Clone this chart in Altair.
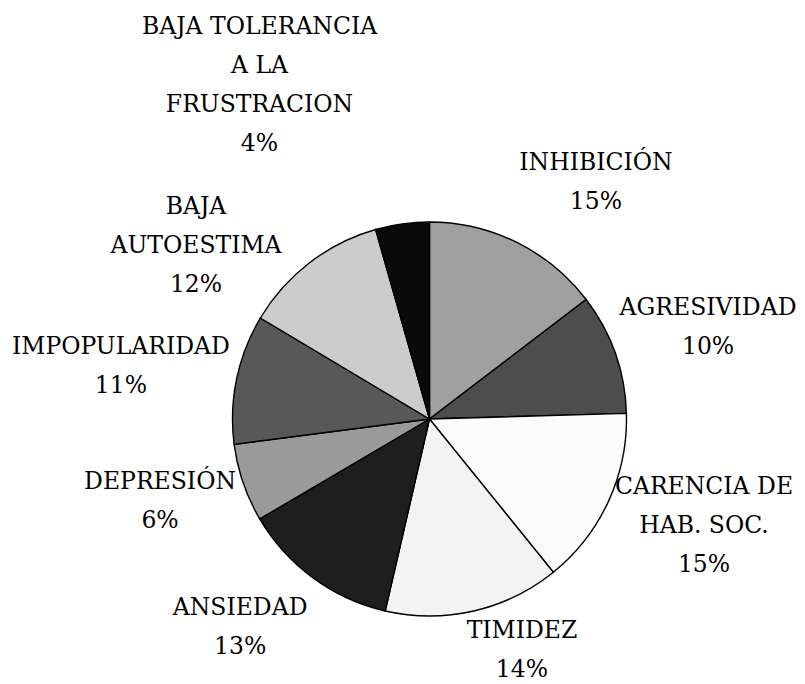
import altair as alt
import pandas as pd

categories = ["INHIBICIÓN", "AGRESIVIDAD", "CARENCIA DE HAB. SOC.", "TIMIDEZ",
              "ANSIEDAD", "DEPRESIÓN", "IMPOPULARIDAD", "BAJA AUTOESTIMA",
              "BAJA TOLERANCIA A LA FRUSTRACION"]
values = [14.6, 9.9, 14.6, 14.4, 12.9, 6.4, 10.6, 12.0, 4.4]
pct_labels = ["15%", "10%", "15%", "14%", "13%", "6%", "11%", "12%", "4%"]
label_text = ["INHIBICIÓN", "AGRESIVIDAD", "CARENCIA DE\nHAB. SOC.", "TIMIDEZ",
              "ANSIEDAD", "DEPRESIÓN", "IMPOPULARIDAD", "BAJA\nAUTOESTIMA",
              "BAJA TOLERANCIA\nA LA\nFRUSTRACION"]
colors = ["#a0a0a0", "#4d4d4d", "#fbfbfb", "#f3f3f3", "#1e1e1e",
          "#9a9a9a", "#585858", "#cccccc", "#0a0a0a"]

# label layout (angle nudge in degrees from slice middle, distance of first line from centre in px)
label_nudge = [6.7, -2.22, -10.8, -10.57, 8.8, 5.8, 1.4, -10.2, -15.5]
label_radius = [305.4, 299.8, 282.8, 231.3, 267.6, 276.7, 316.8, 315.6, 427.4]

df = pd.DataFrame({
    "idx": list(range(len(categories))),
    "category": categories,
    "value": values,
    "label": [t + "\n" + p for t, p in zip(label_text, pct_labels)],
    "nudge": label_nudge,
    "lr": label_radius,
})

cx, cy = 421.5, 411

base = alt.Chart(df)

pie = base.mark_arc(outerRadius=197, stroke="black", strokeWidth=1.4).encode(
    theta=alt.Theta("value:Q", stack=True),
    color=alt.Color("category:N", scale=alt.Scale(domain=categories, range=colors), legend=None),
    order=alt.Order("idx:Q"),
    x=alt.value(cx),
    y=alt.value(cy),
)

labels = base.transform_window(
    cum="sum(value)", sort=[alt.SortField("idx")]
).transform_joinaggregate(
    total="sum(value)"
).transform_calculate(
    lt="2*PI*(datum.cum - datum.value/2)/datum.total + datum.nudge*PI/180"
).mark_text(
    font="DejaVu Serif", fontSize=23.5, lineHeight=39, lineBreak="\n",
    align="center", baseline="middle", color="black"
).encode(
    theta=alt.Theta("lt:Q", scale=None),
    radius=alt.Radius("lr:Q", scale=None),
    text="label:N",
    x=alt.value(cx),
    y=alt.value(cy),
)

chart = alt.layer(pie, labels).properties(
    width=789, height=676, padding=0, autosize=alt.AutoSizeParams(type="none")
).configure_view(stroke=None)

chart.save("out.html", embed_options={"renderer": "svg", "actions": False})
